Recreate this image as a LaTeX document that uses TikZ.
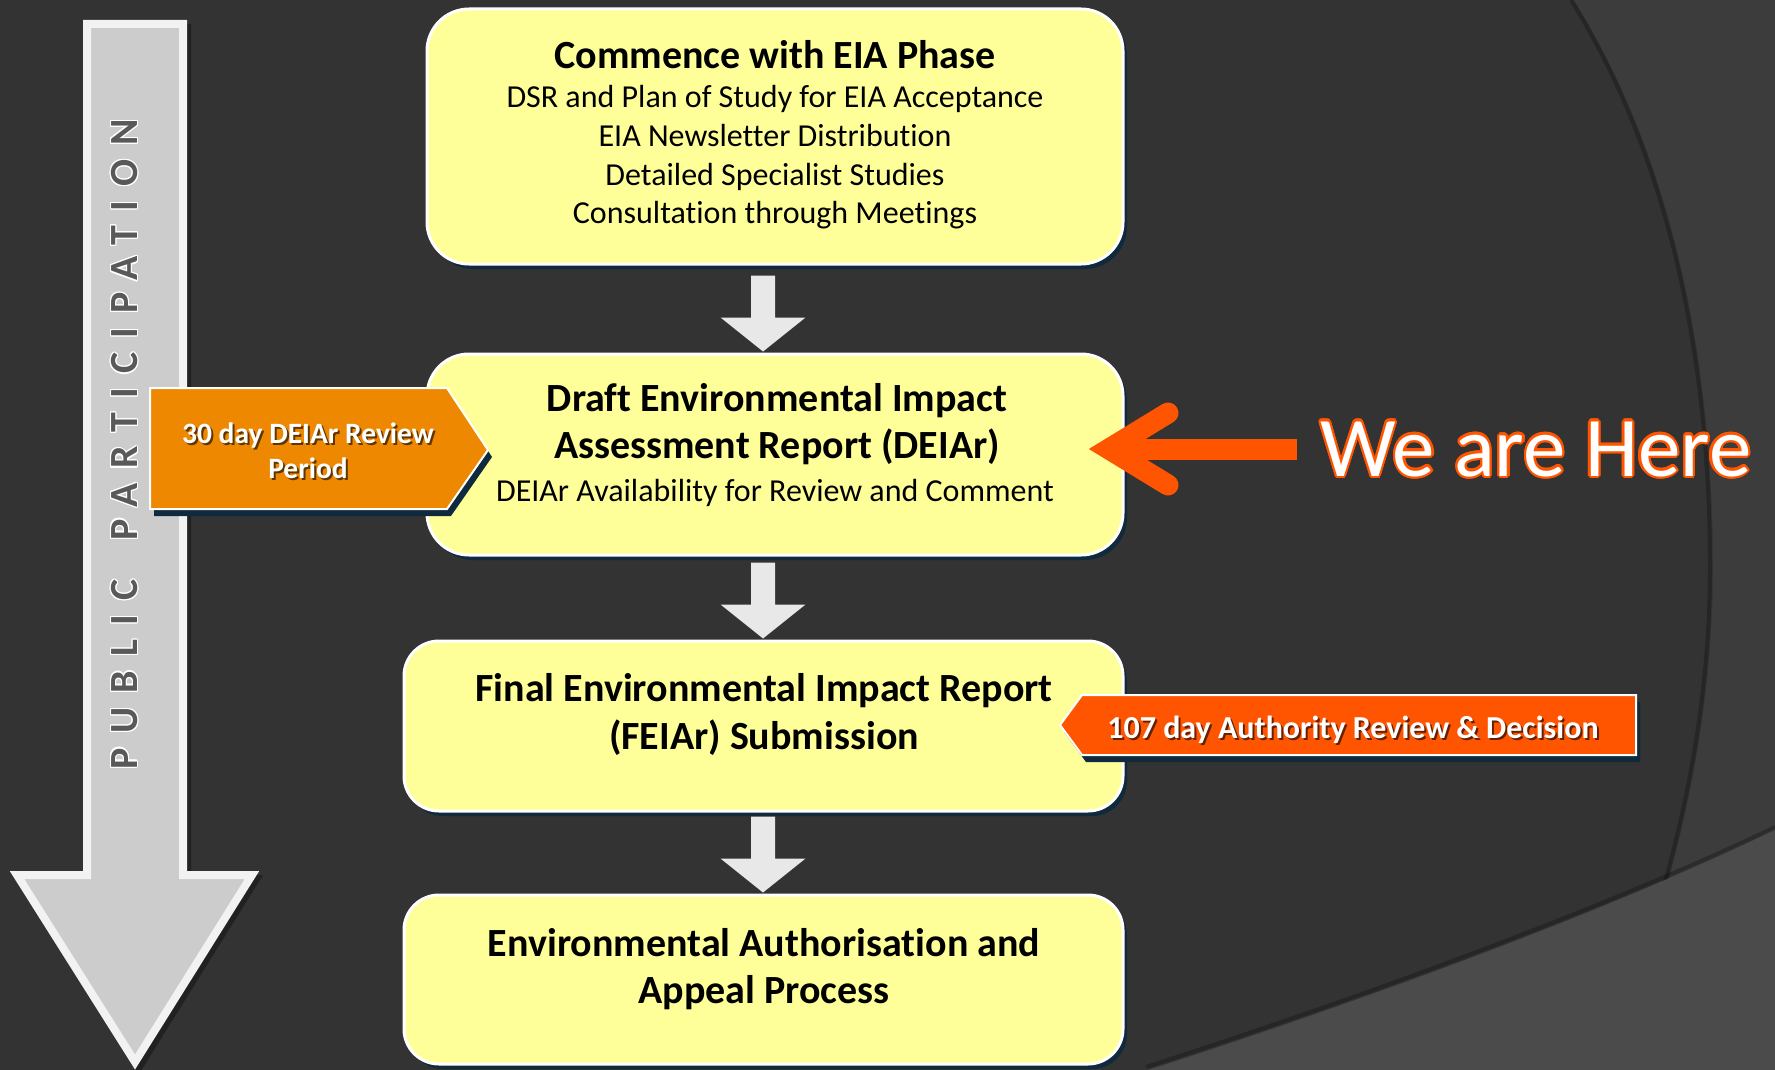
\documentclass[tikz,border=0pt]{standalone}
\usepackage{fontspec}
\setmainfont{Carlito}[Ligatures=CommonOff]
\newfontfamily\ppfont[LetterSpace=35.5]{Carlito}
\usepackage[copies]{contour}
\usetikzlibrary{shadows,calc}
\definecolor{bgc}{HTML}{333333}
\definecolor{arcc}{HTML}{3C3C3C}
\definecolor{lowc}{HTML}{4B4B4B}
\definecolor{boxc}{HTML}{FFFF99}
\definecolor{shadowc}{HTML}{0F2A3D}
\definecolor{arrc}{HTML}{E8E8E8}
\definecolor{ppfill}{HTML}{CCCCCC}
\definecolor{ppedge}{HTML}{F2F2F2}
\definecolor{pptext}{HTML}{595959}
\definecolor{orA}{HTML}{EE8800}
\definecolor{orB}{HTML}{FF5500}
\newcommand\downarr[1]{\path[fill=arrc] let \p1=(#1.north) in
  (763pt,\y1+1pt) -- (805.5pt,\y1+35pt) -- (775pt,\y1+35pt) -- (775pt,\y1+77pt)
  -- (751pt,\y1+77pt) -- (751pt,\y1+35pt) -- (720.5pt,\y1+35pt) -- cycle;}
\begin{document}
\begin{tikzpicture}[x=1pt,y=-1pt,
  box/.style={draw=white, line width=3pt, fill=boxc, inner sep=0,
    general shadow={fill=shadowc, shadow xshift=4pt, shadow yshift=-5pt}},
  ttl/.style={anchor=base, inner sep=0, font=\bfseries\fontsize{40}{46}\selectfont},
  bdy/.style={anchor=base, inner sep=0, font=\fontsize{32}{38}\selectfont},
  bant/.style={anchor=base, inner sep=0, text=white, font=\bfseries\fontsize{#1}{#1}\selectfont},
  bansh/.style={anchor=base, inner sep=0, text=black, opacity=.6, font=\bfseries\fontsize{#1}{#1}\selectfont},
  bantag/.style={draw=white, line width=2pt},
]
% background
\fill[bgc] (0,0) rectangle (1775,1070);
\useasboundingbox (0,0) rectangle (1775,1070);
\fill[arcc] (1574,0) .. controls (1680,170) and (1713,380) .. (1713,567)
  .. controls (1713,760) and (1660,930) .. (1603,1070) -- (1775,1070) -- (1775,0) -- cycle;
\draw[black, opacity=.25, line width=4pt] (1571,0) .. controls (1677,170) and (1710,380) .. (1710,567)
  .. controls (1710,760) and (1657,930) .. (1600,1070);
\fill[lowc] (1148,1070) .. controls (1350,1005) and (1600,915) .. (1775,830) -- (1775,1070) -- cycle;
\draw[black, opacity=.25, line width=4pt] (1146,1067) .. controls (1348,1002) and (1598,912) .. (1775,827);

% public participation arrow
\fill[black, opacity=.35] (87,24) -- (191,24) -- (191,875) -- (263,875) -- (139,1074) -- (14,875) -- (87,875) -- cycle;
\filldraw[fill=ppfill, draw=ppedge, line width=8pt, line join=miter]
  (87,24) -- (183,24) -- (183,875) -- (252,875) -- (135,1062) -- (17,875) -- (87,875) -- cycle;
\node[rotate=90, inner sep=0, text=pptext, font=\ppfont\bfseries\fontsize{40}{40}\selectfont] (pp) at (125,444)
  {\contourlength{1.3pt}\contour{white}{PUBLIC\hspace{16pt} PARTICIPATION}};

% boxes
\node[box, rounded corners=42pt, minimum width=696, minimum height=255] (b1) at (775,136.5) {};
\node[box, rounded corners=42pt, minimum width=696, minimum height=201] (b2) at (775,454.5) {};
\node[box, rounded corners=35pt, minimum width=719, minimum height=170] (b3) at (763.5,726) {};
\node[box, rounded corners=35pt, minimum width=719, minimum height=169] (b4) at (763.5,979.5) {};

\downarr{b2}
\downarr{b3}
\downarr{b4}

% box texts
\node[ttl] (t1) at (775,69) {Commence with EIA Phase};
\node[bdy] at (775,108) {DSR and Plan of Study for EIA Acceptance};
\node[bdy] at (775,146.5) {EIA Newsletter Distribution};
\node[bdy] at (775,185) {Detailed Specialist Studies};
\node[bdy] at (775,223.5) {Consultation through Meetings};

\node[ttl] (t2) at (777,411) {Draft Environmental Impact};
\node[ttl] at (777,458) {Assessment Report (DEIAr)};
\node[bdy] at (775,501) {DEIAr Availability for Review and Comment};

\node[ttl] (t3) at (764,701) {Final Environmental Impact Report};
\node[ttl] at (764,749) {(FEIAr) Submission};

\node[ttl] (t4) at (764,956) {Environmental Authorisation and};
\node[ttl] at (764,1003) {Appeal Process};

% orange tag left
\fill[shadowc] (154,395) -- (451,395) -- (492,457) -- (451,516) -- (154,516) -- cycle;
\filldraw[fill=orA, bantag] (150,388) -- (447,388) -- (488,450) -- (447,509) -- (150,509) -- cycle;
\node[bansh=29.5] at (310,445) {30 day DEIAr Review};
\node[bant=29.5] (tag1) at (308,443) {30 day DEIAr Review};
\node[bansh=29.5] at (310,480) {Period};
\node[bant=29.5] at (308,478) {Period};

% orange tag right
\fill[shadowc] (1064,732) -- (1086,702) -- (1640,702) -- (1640,762) -- (1086,762) -- cycle;
\filldraw[fill=orB, bantag] (1060,725) -- (1082,695) -- (1636,695) -- (1636,755) -- (1082,755) -- cycle;
\node[bansh=32] at (1355,740) {107 day Authority Review \& Decision};
\node[bant=32] (tag2) at (1353,738) {107 day Authority Review \& Decision};

% we are here
\node[anchor=base west, inner sep=0, text=white, font=\fontsize{85}{85}\selectfont] (wh) at (1320,476)
  {\contourlength{2.2pt}\contour{orB}{We are Here}};
\coordinate (tip) at (1109,449);
\draw[orB, line width=21pt] ($(wh.base west)+(-23,-27)$) -- (tip);
\draw[orB, line width=21pt, line cap=round, line join=miter, miter limit=10]
  (1168,413) -- (tip) -- (1168,485);
\end{tikzpicture}
\end{document}
